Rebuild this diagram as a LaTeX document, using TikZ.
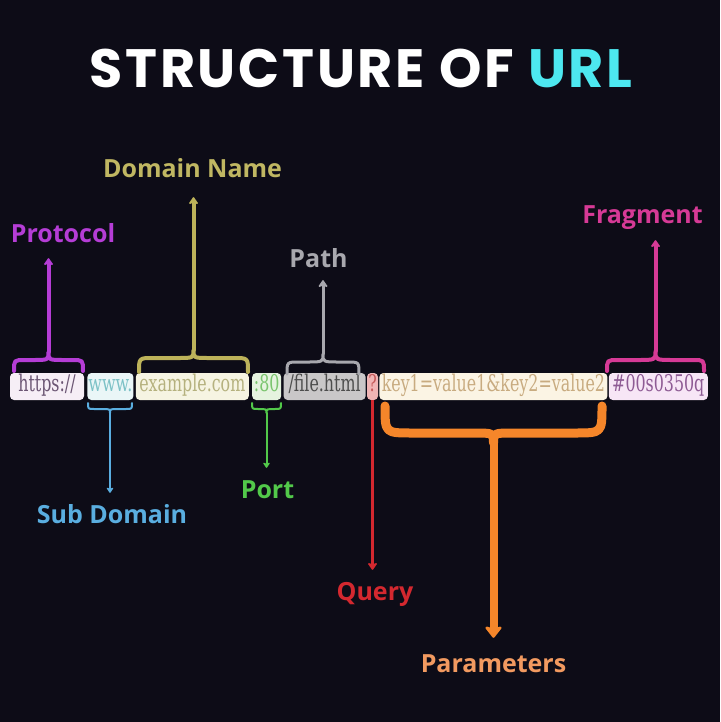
\documentclass[tikz,border=0pt]{standalone}
\usepackage{fontspec}
\usepackage{tikz}
\usepackage{xcolor}
\setmainfont{Open Sans}
\newfontfamily\titlefont{Poppins}[LetterSpace=5]
\newfontfamily\labelfont{Open Sans}
\newfontfamily\urlfont{DejaVu Serif}[FakeStretch=0.69]
\definecolor{NightBg}{HTML}{0D0C17}
\definecolor{UrlCyan}{HTML}{4DE8F0}
\definecolor{ProtoPurple}{HTML}{B53DD6}
\definecolor{DomainOlive}{HTML}{BDB35A}
\definecolor{PathGray}{HTML}{A8A8AE}
\definecolor{FragPink}{HTML}{D63A96}
\definecolor{SubBlue}{HTML}{5AAEE0}
\definecolor{PortGreen}{HTML}{52C94A}
\definecolor{QueryRed}{HTML}{D4282F}
\definecolor{ParamOrange}{HTML}{F5862A}
\definecolor{ParamSalmon}{HTML}{F29A60}
% box fills and texts
\definecolor{ProtoFill}{HTML}{F6EEF6}
\definecolor{ProtoText}{HTML}{6B5573}
\definecolor{SubFill}{HTML}{EAF6F7}
\definecolor{SubText}{HTML}{7BC1C6}
\definecolor{DomainFill}{HTML}{F6F4E2}
\definecolor{DomainText}{HTML}{B5B17E}
\definecolor{PortFill}{HTML}{E5F3DF}
\definecolor{PortText}{HTML}{7AC56E}
\definecolor{PathFill}{HTML}{C9C7C8}
\definecolor{PathText}{HTML}{4D4D4D}
\definecolor{QueryFill}{HTML}{F0B5B5}
\definecolor{QueryText}{HTML}{C55A5A}
\definecolor{ParamFill}{HTML}{FBF4E4}
\definecolor{ParamText}{HTML}{C8AB80}
\definecolor{FragFill}{HTML}{F7E6F6}
\definecolor{FragText}{HTML}{8E5B94}
\usetikzlibrary{arrows.meta, positioning, calc}

% brace: style, x1, x2, y end, y bar, y cusp, cusp name
\newcommand{\urlbrace}[7]{%
  \pgfmathsetmacro{\bcx}{(#2+#3)/2}
  \pgfmathsetmacro{\br}{abs(#5-#4)}
  \pgfmathsetmacro{\bw}{2*abs(#6-#5)}
  \draw[#1] (#2,-#4) .. controls (#2,-#5) .. ({#2+\br},-#5) -- ({\bcx-\bw},-#5)
    .. controls (\bcx,-#5) .. (\bcx,-#6) coordinate (#7)
    .. controls (\bcx,-#5) .. ({\bcx+\bw},-#5) -- ({#3-\br},-#5)
    .. controls (#3,-#5) .. (#3,-#4);
}

\begin{document}
\begin{tikzpicture}[x=1pt, y=1pt,
    urlbox/.style={rounded corners=4pt, inner xsep=1pt, inner ysep=3.5pt, minimum height=27pt,
      text height=15pt, text depth=5pt, font=\urlfont\fontsize{23}{23}\selectfont},
    lbl/.style={inner sep=0pt, anchor=base, text height=18pt, text depth=0pt,
      font=\labelfont\bfseries\fontsize{25}{25}\selectfont},
    brc/.style={line cap=round, line join=round},
    tip/.style={-{Stealth[round, length=8pt, width=11pt, inset=2pt]}}]
    % Background
    \fill[NightBg] (0,0) rectangle (720,-722);
    \useasboundingbox (0,0) rectangle (720,-722);

    % Title
    \node (title) [anchor=base, text=white, font=\titlefont\bfseries\fontsize{54}{54}\selectfont] at (361,-88) {STRUCTURE OF \textcolor{UrlCyan}{URL}};

    % The URL pieces
    \node (proto) [urlbox, fill=ProtoFill, text=ProtoText, minimum width=74pt] at (47,-386.5) {https://};
    \node (sub) [urlbox, fill=SubFill, text=SubText, minimum width=46pt, right=3pt of proto] {www.};
    \node (domain) [urlbox, fill=DomainFill, text=DomainText, minimum width=113pt, right=2pt of sub] {example.com};
    \node (port) [urlbox, fill=PortFill, text=PortText, minimum width=29pt, right=3pt of domain] {:80};
    \node (path) [urlbox, fill=PathFill, text=PathText, minimum width=82pt, right=2pt of port] {/file.html};
    \node (query) [urlbox, fill=QueryFill, text=QueryText, inner xsep=0pt, minimum width=11pt, right=1pt of path] {?};
    \node (params) [urlbox, fill=ParamFill, text=ParamText, minimum width=228pt, right=1pt of query] {key1=value1\&key2=value2};
    \node (frag) [urlbox, fill=FragFill, text=FragText, minimum width=99pt, right=1pt of params] {\#00s0350q};

    % Labels above
    \node (protoLbl) [lbl, text=ProtoPurple] at (63,-242) {Protocol};
    \node (domainLbl) [lbl, text=DomainOlive!95!white] at (192.5,-178) {Domain Name};
    \node (pathLbl) [lbl, text=PathGray] at (318.5,-267) {Path};
    \node (fragLbl) [lbl, text=FragPink] at (642.5,-223) {Fragment};

    % Labels below
    \node (subLbl) [lbl, text=SubBlue] at (112,-523) {Sub Domain};
    \node (portLbl) [lbl, text=PortGreen] at (267.5,-498) {Port};
    \node (queryLbl) [lbl, text=QueryRed] at (375,-600) {Query};
    \node (paramsLbl) [lbl, text=ParamSalmon] at (493.5,-672) {Parameters};

    % Braces
    \urlbrace{brc, ProtoPurple, line width=4pt}{14}{83}{371}{360}{352}{protoCusp}
    \urlbrace{brc, DomainOlive, line width=4pt}{139}{248}{372}{358}{350}{domainCusp}
    \urlbrace{brc, PathGray, line width=3pt}{287}{359}{374}{362}{354}{pathCusp}
    \urlbrace{brc, FragPink, line width=4pt}{607}{704}{371}{360}{351}{fragCusp}
    \urlbrace{brc, SubBlue, line width=2pt}{88}{132}{403}{409}{413}{subCusp}
    \urlbrace{brc, PortGreen, line width=2pt}{252}{281}{403}{409}{413}{portCusp}
    \urlbrace{brc, ParamOrange, line width=9pt}{385}{602}{406}{433}{443}{paramsCusp}

    % Arrows
    \draw[brc, tip, ProtoPurple, line width=4pt, shorten >=16pt] (protoCusp) -- (protoCusp |- protoLbl.south);
    \draw[brc, tip, DomainOlive, line width=4pt, shorten >=19pt] (domainCusp) -- (domainCusp |- domainLbl.south);
    \draw[brc, tip, PathGray, line width=3pt, shorten >=13pt] (pathCusp) -- (pathCusp |- pathLbl.south);
    \draw[brc, tip, FragPink, line width=4pt, shorten >=17pt] (fragCusp) -- (fragCusp |- fragLbl.south);
    \draw[brc, -{Stealth[round, length=6pt, width=8pt, inset=1.5pt]}, SubBlue, line width=2pt, shorten >=12pt] (subCusp) -- (subCusp |- subLbl.north);
    \draw[brc, -{Stealth[round, length=6pt, width=8pt, inset=1.5pt]}, PortGreen, line width=2pt, shorten >=12pt] (portCusp) -- (portCusp |- portLbl.north);
    \draw[tip, QueryRed, line width=3pt, shorten >=12pt] (query.south) -- (query.south |- queryLbl.north);
    \draw[brc, -{Stealth[round, length=13pt, width=20pt, inset=3pt]}, ParamOrange, line width=8pt, shorten >=16pt] (paramsCusp) -- (paramsCusp |- paramsLbl.north);
\end{tikzpicture}
\end{document}
